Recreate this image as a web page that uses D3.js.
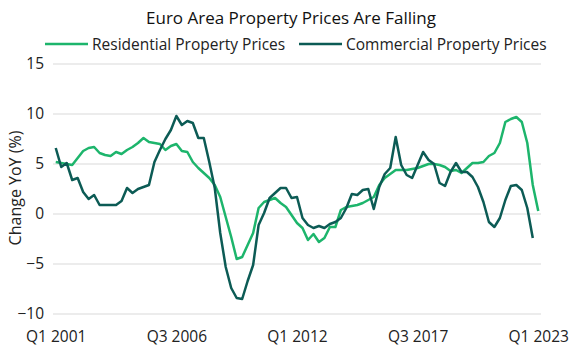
<!DOCTYPE html>
<html>
<head>
<meta charset="utf-8">
<script src="https://cdn.jsdelivr.net/npm/d3@7/dist/d3.min.js"></script>
<style>
  html, body { margin: 0; padding: 0; background: #fff; }
  svg { display: block; font-family: "Open Sans", sans-serif; }
</style>
</head>
<body>
<svg id="chart" width="581" height="350"></svg>
<script>
// ---- data ----
const quarters = [];
for (let y = 2001; y <= 2023; y++) {
  for (let q = 1; q <= 4; q++) {
    if (y === 2023 && q > 1) break;
    quarters.push(`Q${q} ${y}`);
  }
}
const tickLabels = ["Q1 2001", "Q3 2006", "Q1 2012", "Q3 2017", "Q1 2023"];
const yTicks = [-10, -5, 0, 5, 10, 15];

const residential = [
  5.2, 5.1, 5.0, 4.9, 5.6, 6.3, 6.6, 6.7, 6.1, 5.9,
  5.8, 6.2, 6.0, 6.4, 6.7, 7.1, 7.6, 7.2, 7.1, 7.0,
  6.4, 6.8, 7.0, 6.3, 6.2, 5.2, 4.6, 4.1, 3.6, 2.9,
  1.7, -0.3, -2.3, -4.5, -4.3, -3.1, -1.9, 0.6, 1.2, 1.4,
  1.6, 1.1, 0.7, -0.1, -0.9, -1.4, -2.6, -2.0, -2.8, -2.4,
  -1.3, -1.3, 0.4, 0.7, 0.8, 0.9, 1.1, 1.4, 1.7, 2.9,
  3.6, 4.0, 4.4, 4.4, 4.4, 4.5, 4.6, 4.8, 5.0, 5.0,
  4.9, 4.7, 4.3, 4.4, 4.1, 4.6, 5.1, 5.1, 5.2, 5.8,
  6.1, 7.1, 9.2, 9.5, 9.7, 9.2, 7.1, 2.9, 0.3
];
const commercial = [
  6.6, 4.7, 5.1, 3.4, 3.6, 2.2, 1.5, 1.9, 0.9, 0.9,
  0.9, 0.9, 1.3, 2.6, 2.1, 2.5, 2.7, 2.9, 5.2, 6.4,
  7.5, 8.4, 9.8, 8.9, 9.3, 9.1, 7.6, 7.6, 5.2, 2.6,
  -1.9, -5.3, -7.4, -8.4, -8.5, -6.7, -5.1, -1.1, 0.1, 1.6,
  2.1, 2.6, 2.6, 1.6, 1.7, -0.4, -1.1, -1.4, -1.2, -1.4,
  -1.0, -0.8, -0.4, 0.6, 2.0, 1.9, 2.4, 2.5, 0.5, 2.7,
  4.0, 4.6, 7.7, 4.9, 3.9, 3.6, 4.9, 6.2, 5.4, 5.0,
  3.1, 2.8, 4.2, 5.1, 4.2, 4.2, 3.7, 2.7, 1.2, -0.8,
  -1.3, -0.4, 1.4, 2.8, 2.9, 2.4, 0.6, -2.4, null
];
const seriesNames = ["Residential Property Prices", "Commercial Property Prices"];
const colors = ["#1db56c", "#0c5b55"];

// ---- chart ----
const svg = d3.select("#chart");
const x = d3.scalePoint().domain(quarters).range([53, 541]).padding(0.5);
const y = d3.scaleLinear().domain([-10, 15]).range([314, 64]);

// title
svg.append("text")
  .attr("x", 291).attr("y", 24)
  .attr("text-anchor", "middle")
  .attr("font-size", 17).attr("fill", "#111")
  .text("Euro Area Property Prices Are Falling");

// gridlines
svg.append("g").selectAll("line").data(yTicks).join("line")
  .attr("x1", 53).attr("x2", 541)
  .attr("y1", d => y(d)).attr("y2", d => y(d))
  .attr("stroke", "#d9d9d9").attr("stroke-width", 1);

// y axis labels
const yAxis = d3.axisLeft(y).tickValues(yTicks).tickSize(0).tickPadding(0);
const gy = svg.append("g").attr("transform", "translate(44,0)").call(yAxis);
gy.select(".domain").remove();
gy.selectAll("text").attr("font-size", 15.5).attr("font-family", "Open Sans, sans-serif").attr("fill", "#222");

// y axis title
svg.append("text")
  .attr("transform", "translate(21,188) rotate(-90)")
  .attr("text-anchor", "middle")
  .attr("font-size", 16).attr("fill", "#222")
  .text("Change YoY (%)");

// x axis labels
const xAxis = d3.axisBottom(x).tickValues(tickLabels).tickSize(0).tickPadding(0);
const gx = svg.append("g").attr("transform", "translate(0,331)").call(xAxis);
gx.select(".domain").remove();
gx.selectAll("text").attr("font-size", 15.5).attr("font-family", "Open Sans, sans-serif").attr("fill", "#222");

// lines
const line = d3.line()
  .defined(d => d.v !== null)
  .x(d => x(d.q)).y(d => y(d.v));
[residential, commercial].forEach((vals, k) => {
  svg.append("path")
    .datum(vals.map((v, i) => ({ q: quarters[i], v })))
    .attr("fill", "none")
    .attr("stroke", colors[k])
    .attr("stroke-width", 2.5)
    .attr("stroke-linejoin", "round")
    .attr("d", line);
});

// legend
const legendItems = [
  { x1: 45, x2: 88, tx: 92 },
  { x1: 299, x2: 342, tx: 346 }
];
legendItems.forEach((it, k) => {
  svg.append("line")
    .attr("x1", it.x1).attr("x2", it.x2).attr("y1", 44).attr("y2", 44)
    .attr("stroke", colors[k]).attr("stroke-width", 2.5);
  svg.append("text")
    .attr("x", it.tx).attr("y", 49.5)
    .attr("font-size", 15.5).attr("fill", "#222")
    .text(seriesNames[k]);
});
</script>
</body>
</html>
